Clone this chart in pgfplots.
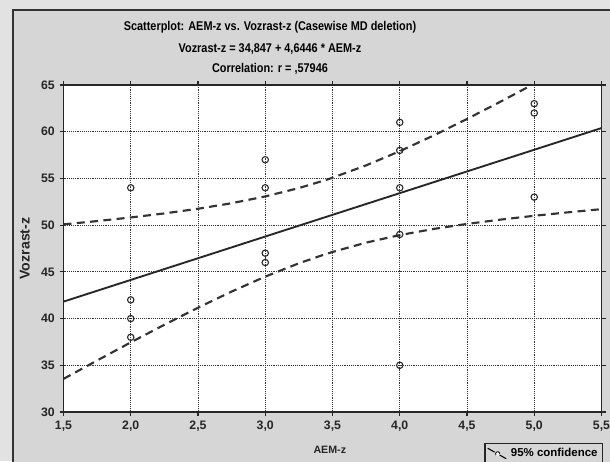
\documentclass[border=0pt]{standalone}
\usepackage{pgfplots}
\pgfplotsset{compat=1.18}
\usepackage{fontspec}
\setmainfont{Liberation Sans}
\usepackage{graphicx}
\definecolor{panel}{RGB}{214,214,214}
\definecolor{outer}{RGB}{226,226,226}

\pgfplotstableread{
x y
2 54
2 42
2 40
2 38
3 57
3 54
3 47
3 46
4 61
4 58
4 54
4 49
4 35
5 63
5 62
5 53
}\points

\pgfplotstableread{
x lo hi
1.5 33.546 50.082
1.75 35.515 50.435
2.0 37.451 50.822
2.25 39.340 51.255
2.5 41.163 51.754
2.75 42.892 52.347
3.0 44.491 53.071
3.25 45.916 53.968
3.4375 46.848 54.777
3.5 47.131 55.075
3.75 48.130 56.398
4.0 48.936 57.915
4.25 49.589 59.584
4.5 50.131 61.365
4.75 50.594 63.223
5.0 51.002 65.138
5.25 51.371 67.091
5.5 51.711 69.074
}\band

\begin{document}
\begin{tikzpicture}
\path[use as bounding box] (0pt,0pt) rectangle (457.5pt,345.75pt);
\clip (0pt,0pt) rectangle (457.5pt,345.75pt);
\fill[outer] (0pt,0pt) rectangle (457.5pt,345.75pt);
\filldraw[fill=panel, draw=black!80, line width=1.1pt] (9.75pt,-20pt) rectangle (480pt,338.25pt);
\node[font=\bfseries\fontsize{9.5}{10}\selectfont] at (202.5pt,325.5pt) {\scalebox{0.86}[1]{Scatterplot: AEM-z vs. Vozrast-z (Casewise MD deletion)}};
\node[font=\bfseries\fontsize{9.5}{10}\selectfont] at (202.5pt,309pt) {\scalebox{0.86}[1]{Vozrast-z = 34,847 + 4,6446 * AEM-z}};
\node[font=\bfseries\fontsize{9.5}{10}\selectfont] at (202.5pt,294pt) {\scalebox{0.86}[1]{Correlation: r = ,57946}};
\begin{axis}[
  at={(47.625pt,36.75pt)}, anchor=south west,
  width=403.5pt, height=245.25pt, scale only axis,
  xmin=1.5, xmax=5.5, ymin=30, ymax=65,
  xtick={1.5,2,2.5,3,3.5,4,4.5,5,5.5},
  xticklabels={{1,5},{2,0},{2,5},{3,0},{3,5},{4,0},{4,5},{5,0},{5,5}},
  ytick={30,35,40,45,50,55,60,65},
  /pgf/number format/assume math mode=true,
  ticklabel style={font=\bfseries\fontsize{9.2}{10}\selectfont, black!85},
  grid=major,
  major grid style={densely dotted, black!80, line width=0.7pt},
  axis line style={line width=1.2pt, black!85},
  tick align=outside, major tick length=3pt,
  tick style={black!85, line width=0.8pt},
  axis background/.style={fill=white},
  xlabel={AEM-z}, ylabel={Vozrast-z},
  xlabel style={font=\bfseries\fontsize{8}{9}\selectfont, black!85, at={(axis description cs:0.495,-0.116)}, anchor=center},
  ylabel style={font=\bfseries\fontsize{10.6}{11}\selectfont, black!85, at={(axis description cs:-0.072,0.5)}, anchor=center},
  legend style={at={(axis description cs:0.7825,-0.095)}, anchor=north west,
    draw=black!85, line width=1pt, fill=panel,
    font=\bfseries\fontsize{8.6}{9}\selectfont, inner sep=1.5pt},
  legend cell align=left,
]
\addplot[black!85, line width=1.4pt, forget plot] coordinates {(1.5,41.814) (5.5,60.392)};
\addplot[black!80, line width=1.6pt, dash pattern=on 6pt off 4pt, forget plot] table[x=x,y=hi] {\band};
\addplot[black!80, line width=1.6pt, dash pattern=on 6pt off 4pt,
  legend image code/.code={\draw[black, line width=0.8pt] (0pt,4pt) -- (15pt,-4.5pt); \draw[black, fill=white, line width=0.6pt] (7.5pt,-0.2pt) circle (1.6pt);}] table[x=x,y=lo] {\band};
\addlegendentry{95\% confidence}
\addplot[only marks, mark=o, mark size=2.4pt, black!85, line width=0.8pt, mark options={fill=white}, forget plot] table[x=x,y=y] {\points};
\end{axis}
\end{tikzpicture}
\end{document}
